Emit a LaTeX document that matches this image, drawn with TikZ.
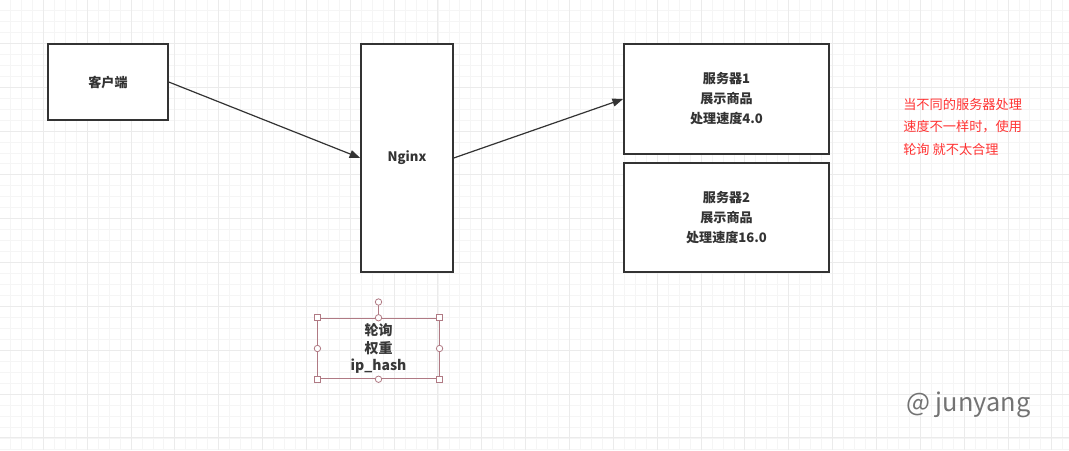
\documentclass[tikz,border=0pt]{standalone}
\usepackage{fontspec}
\setmainfont{Noto Sans CJK SC}
\usetikzlibrary{arrows.meta}
\definecolor{gridminor}{HTML}{F5F5F5}
\definecolor{gridmajor}{HTML}{EBEBEB}
\definecolor{boxline}{HTML}{333333}
\definecolor{handle}{HTML}{B07A84}
\definecolor{redtxt}{HTML}{FF3333}
\tikzset{
  box/.style={draw=boxline, line width=1.1pt, fill=white, inner sep=0pt, font=\bfseries\fontsize{9.8pt}{15pt}\selectfont, text=black!80, align=center},
  conn/.style={draw=boxline, line width=0.9pt, -{Triangle[length=8pt,width=6pt]}},
  hsq/.style={draw=handle, fill=white, line width=0.6pt, minimum size=4.5pt, inner sep=0pt, rectangle},
  hci/.style={draw=handle, fill=white, line width=0.6pt, minimum size=4.8pt, inner sep=0pt, circle},
}
\begin{document}
\begin{tikzpicture}[x=0.75pt,y=-0.75pt]
\useasboundingbox (0,0) rectangle (1069,450);
\fill[white] (0,0) rectangle (1069,450);
% grid
\foreach \i in {-3,...,97} {
  \pgfmathsetmacro{\p}{43.3+10.962*\i}
  \draw[gridminor, line width=0.6pt] (\p,0) -- (\p,450);
}
\foreach \i in {-3,...,38} {
  \pgfmathsetmacro{\p}{43.3+10.962*\i}
  \draw[gridminor, line width=0.6pt] (0,\p) -- (1069,\p);
}
\foreach \i in {-1,...,24} {
  \pgfmathsetmacro{\p}{43.3+43.85*\i}
  \draw[gridmajor, line width=0.7pt] (\p,0) -- (\p,450);
}
\foreach \i in {-1,...,9} {
  \pgfmathsetmacro{\p}{43.3+43.85*\i}
  \draw[gridmajor, line width=0.7pt] (0,\p) -- (1069,\p);
}
% boxes
\node[box, minimum width=90pt, minimum height=57pt] (client) at (108,82) {客户端};
\node[box, minimum width=69pt, minimum height=171pt] (nginx) at (407,158) {Nginx};
\node[box, minimum width=154pt, minimum height=82.5pt] (s1) at (726.5,99) {服务器1\\展示商品\\处理速度4.0};
\node[box, minimum width=154pt, minimum height=82pt] (s2) at (726.5,217.5) {服务器2\\展示商品\\处理速度16.0};
% connectors
\draw[conn] (client.east) -- (nginx.west);
\draw[conn] (nginx.east) -- (s1.west);
% selected text box
\node[draw=handle, line width=0.6pt, minimum width=91pt, minimum height=45.5pt, inner sep=0pt,
      font=\bfseries\fontsize{10.5pt}{13.2pt}\selectfont, text=black!78, align=center] (sel) at (378.5,348.5) {轮询\\权重\\ip\_hash};
\coordinate (rot) at (378.5,302);
\draw[handle, line width=0.6pt] (sel.north) -- (rot);
\node[hci] (hrot) at (rot) {};
\foreach \a in {north west, north east, south west, south east} { \node[hsq] at (sel.\a) {}; }
\foreach \a in {north, south, east, west} { \node[hci] at (sel.\a) {}; }
% note
\node[anchor=north west, text=redtxt, align=left, inner sep=0pt, font=\fontsize{9.9pt}{16.9pt}\selectfont] (note) at (903,98) {当不同的服务器处理\\速度不一样时，使用\\轮询 就不太合理};
% watermark
\node[anchor=west, text=black!55, inner sep=0pt, font=\fontsize{19pt}{22pt}\selectfont] (wm) at (906,405) {@ junyang};
\end{tikzpicture}
\end{document}
